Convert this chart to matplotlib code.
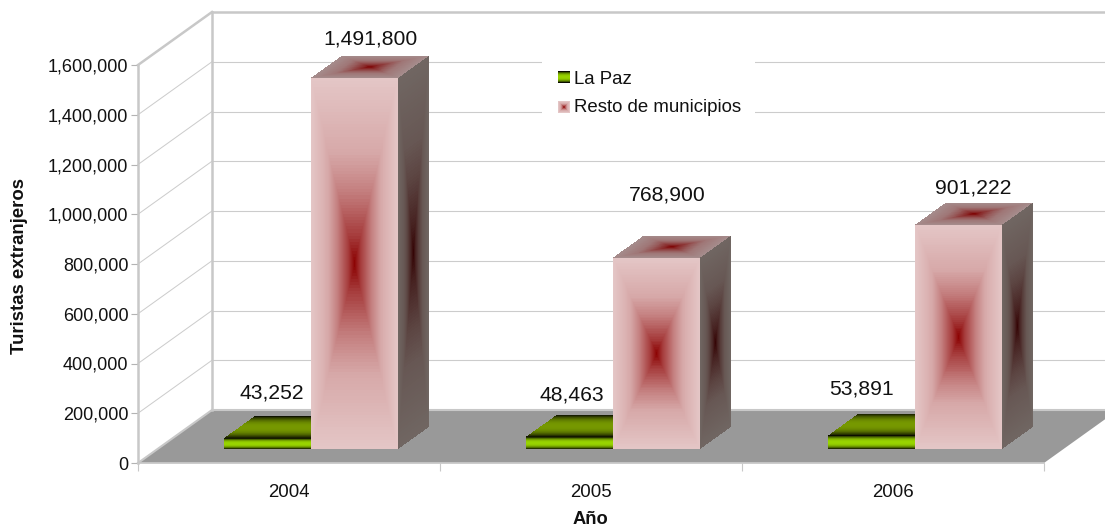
import numpy as np
import matplotlib
matplotlib.use('Agg')
import matplotlib.pyplot as plt
from matplotlib.ticker import FuncFormatter

years = ['2004', '2005', '2006']
la_paz = [43252, 48463, 53891]
resto = [1491800, 768900, 901222]
y_ticks = list(range(0, 1600001, 200000))

# label offsets from the bar top, in pixels
la_paz_off = [(4, 45), (2, 42), (-10, 47)]
resto_off = [(16, 39), (11, 63), (15, 37)]

W, H = 1105, 527
LEFT, RIGHT, BOTTOM, TOP = 138, 1044, 463, 65

# depth of the floor, in data units
DX = 74 / 302
DY = 53 / 398 * 1600000

BAR_W = 87 / 302
BAR_D0, BAR_D1 = 0.264, 0.68
BAR_X0 = 0.22

PINK_FRONT = ((228, 198, 198), (139, 0, 0))
PINK_SIDE = ((112, 102, 98), (52, 4, 4))
PINK_TOP = ((165, 140, 140), (125, 0, 0))
GREEN_FRONT = ((10, 12, 0), (152, 212, 0))
GREEN_TOP = ((10, 12, 0), (118, 152, 0))


def proj(x, v, d):
    return x + d * DX, v + d * DY


def rect_grad(colors, nu=90, nv=120, stripes=False):
    edge = np.array(colors[0]) / 255
    mid = np.array(colors[1]) / 255
    u = np.linspace(-1, 1, nu)
    v = np.linspace(-1, 1, nv)
    uu, vv = np.meshgrid(u, v)
    if stripes:
        t = np.abs(vv) ** 2.5
    else:
        # stays pale near the edge, dark only close to the middle
        t = np.interp(np.maximum(np.abs(uu), np.abs(vv)), [0, 0.15, 0.4, 0.6, 1], [0, 0.3, 0.65, 0.85, 1])
    return mid + (edge - mid) * t[..., None]


def shade(ax, p0, p1, p3, colors, stripes=False, z=3):
    # p0 corner, p1 along the width, p3 along the height
    img = rect_grad(colors, stripes=stripes)
    ny, nx = img.shape[:2]
    s, r = np.meshgrid(np.linspace(0, 1, nx + 1), np.linspace(0, 1, ny + 1))
    X = p0[0] + s * (p1[0] - p0[0]) + r * (p3[0] - p0[0])
    Y = p0[1] + s * (p1[1] - p0[1]) + r * (p3[1] - p0[1])
    m = ax.pcolormesh(X, Y, img, antialiased=False, linewidth=0, zorder=z)
    m.set_clip_on(False)


def bar3d(ax, x0, val, front, side=None, top=None, stripes=False, z=3):
    x1 = x0 + BAR_W
    a = proj(x0, 0, BAR_D0)
    b = proj(x1, 0, BAR_D0)
    c = proj(x0, val, BAR_D0)
    d = proj(x1, val, BAR_D0)
    e = proj(x0, val, BAR_D1)
    f = proj(x1, 0, BAR_D1)
    shade(ax, a, b, c, front, stripes, z)
    if side is not None:
        shade(ax, b, f, d, side, stripes, z)
    shade(ax, c, d, e, top, stripes, z)


fig = plt.figure(figsize=(W / 100, H / 100), dpi=100)
plt.rcParams['font.family'] = ['Liberation Sans', 'DejaVu Sans']
ax = fig.add_axes([LEFT / W, 1 - BOTTOM / H, (RIGHT - LEFT) / W, (BOTTOM - TOP) / H])
ax.set_facecolor('none')

wall = '#c8c8c8'
grid = '#cccccc'

# floor
fx = [proj(0, 0, 0)[0], proj(3, 0, 0)[0], proj(3, 0, 1)[0], proj(0, 0, 1)[0]]
fy = [proj(0, 0, 0)[1], proj(3, 0, 0)[1], proj(3, 0, 1)[1], proj(0, 0, 1)[1]]
ax.fill(fx, fy, color='#999999', lw=0, zorder=1, clip_on=False)

# gridlines on both walls
for v in y_ticks[1:-1]:
    bx, by = proj(0, v, 1)
    ax.plot([0, bx], [v, by], color=grid, lw=0.72, zorder=1, clip_on=False)
    ax.plot([bx, proj(3, v, 1)[0]], [by, by], color=grid, lw=0.8, zorder=1, clip_on=False)

# wall edges
bx0, by0 = proj(0, 0, 1)
bx1, by1 = proj(0, 1600000, 1)
ax.plot([bx0, bx1], [by0, by1], color=wall, lw=1.8, zorder=2, clip_on=False)
ax.plot([0, bx1], [1600000, by1], color=wall, lw=1.8, zorder=2, clip_on=False)
ax.plot([bx1, proj(3, 0, 1)[0]], [by1, by1], color=wall, lw=1.8, zorder=2, clip_on=False)
ax.plot([0, bx0], [0, by0], color=wall, lw=1.5, zorder=2, clip_on=False)
ax.plot([bx0, proj(3, 0, 1)[0]], [by0, by0], color=wall, lw=1.5, zorder=2, clip_on=False)

# bars
for i in range(len(years)):
    x0 = i + BAR_X0
    bar3d(ax, x0, la_paz[i], GREEN_FRONT, top=GREEN_TOP, stripes=True, z=3)
    bar3d(ax, x0 + BAR_W, resto[i], PINK_FRONT, PINK_SIDE, PINK_TOP, z=4)

    tx, ty = proj(x0 + BAR_W / 2, la_paz[i], BAR_D0)
    ax.annotate(f'{la_paz[i]:,}', (tx, ty), xytext=la_paz_off[i], textcoords='offset pixels',
                ha='center', va='center', fontsize=15.2, color='#111111', zorder=6, annotation_clip=False)
    tx, ty = proj(x0 + 1.5 * BAR_W, resto[i], BAR_D0)
    ax.annotate(f'{resto[i]:,}', (tx, ty), xytext=resto_off[i], textcoords='offset pixels',
                ha='center', va='center', fontsize=15.2, color='#111111', zorder=6, annotation_clip=False)

ax.set_xlim(0, 3)
ax.set_ylim(0, 1600000)
ax.set_yticks(y_ticks)
ax.yaxis.set_major_formatter(FuncFormatter(lambda v, p: f'{int(v):,}'))
ax.set_xticks(range(4))
ax.set_xticklabels([])
ax.set_xticks([0.5, 1.5, 2.5], minor=True)
ax.set_xticklabels(years, minor=True)
ax.tick_params(axis='y', length=5, width=0.8, color='#b3b3b3', labelsize=13, pad=2, labelcolor='#111111')
ax.tick_params(axis='x', which='major', length=6, width=0.8, color='#c8c8c8')
ax.tick_params(axis='x', which='minor', length=0, labelsize=13.4, pad=15, labelcolor='#111111')
for s in ['top', 'right']:
    ax.spines[s].set_visible(False)
ax.spines['left'].set_color(wall)
ax.spines['left'].set_linewidth(1.8)
ax.spines['bottom'].set_color(wall)
ax.spines['bottom'].set_linewidth(1.3)

fig.text(20 / W, 1 - 266 / H, 'Turistas extranjeros', rotation=90, ha='center', va='center',
         fontsize=13.4, fontweight='bold', color='#111111')
fig.text(590 / W, 1 - 520 / H, 'Año', ha='center', va='center',
         fontsize=13.2, fontweight='bold', color='#111111')

# legend box, drawn in pixel units
lg = fig.add_axes([542 / W, 1 - 124 / H, 213 / W, 63 / H], facecolor='white', zorder=5)
lg.axis('off')
lg.add_patch(plt.Rectangle((542, 61), 213, 63, color='white', lw=0, zorder=0))
lg.imshow(rect_grad(GREEN_FRONT, 12, 12, stripes=True), extent=(558, 570, 83, 71), aspect='auto',
          interpolation='bilinear', zorder=1)
lg.imshow(rect_grad(PINK_FRONT, 12, 12), extent=(558, 570, 113, 101), aspect='auto',
          interpolation='bilinear', zorder=1)
lg.set_xlim(542, 755)
lg.set_ylim(124, 61)
lg.text(574, 79, 'La Paz', va='center', fontsize=13.4, color='#111111')
lg.text(574, 108, 'Resto de municipios', va='center', fontsize=13.4, color='#111111')

fig.savefig('out.png', dpi=100)
